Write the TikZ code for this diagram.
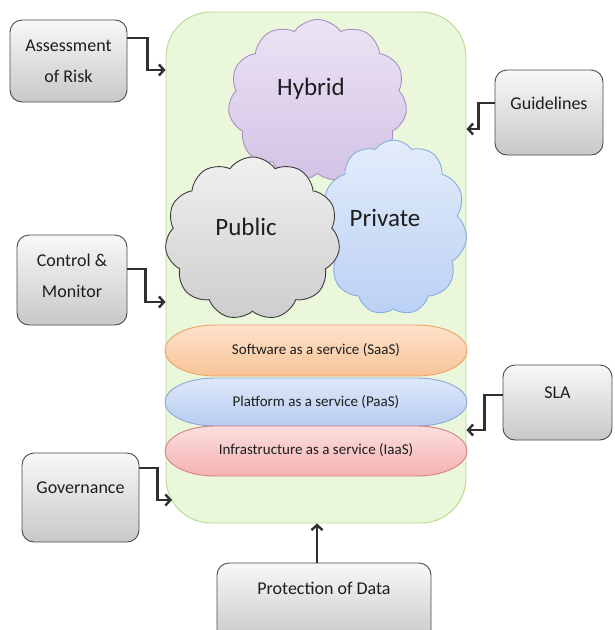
\documentclass[tikz,border=0pt]{standalone}
\usepackage{fontspec}
\setmainfont{Carlito}
\usetikzlibrary{shapes.symbols,arrows.meta}
\definecolor{greenfill}{HTML}{EAF7DA}
\definecolor{greenline}{HTML}{B6D98F}
\definecolor{boxtop}{HTML}{F8F8F8}
\definecolor{boxbot}{HTML}{C8C8C8}
\definecolor{boxline}{HTML}{4A4A4A}
\definecolor{arrowc}{HTML}{303030}
\definecolor{txt}{HTML}{1E1E1E}
\definecolor{hybtop}{HTML}{ECE4F5}
\definecolor{hybbot}{HTML}{D3C2E5}
\definecolor{hybline}{HTML}{A890C6}
\definecolor{pubtop}{HTML}{F0F0F0}
\definecolor{pubbot}{HTML}{CDCDCD}
\definecolor{publine}{HTML}{3C3C3C}
\definecolor{privtop}{HTML}{E3ECFB}
\definecolor{privbot}{HTML}{BBD1F4}
\definecolor{privline}{HTML}{86ADDF}
\definecolor{saastop}{HTML}{FCE2CB}
\definecolor{saasbot}{HTML}{F8C497}
\definecolor{saasline}{HTML}{EDA468}
\definecolor{paastop}{HTML}{DDE8FA}
\definecolor{paasbot}{HTML}{B8CCF0}
\definecolor{paasline}{HTML}{8CA8D9}
\definecolor{iaastop}{HTML}{FCDEDE}
\definecolor{iaasbot}{HTML}{F3B2B2}
\definecolor{iaasline}{HTML}{D77F80}
\begin{document}
\begin{tikzpicture}[x=1pt,y=1pt,
  graybox/.style={draw=boxline, line width=0.9pt, rounded corners=12pt,
    top color=boxtop, bottom color=boxbot, inner sep=0pt},
  boxtext/.style={font=\fontsize{18}{31}\selectfont, text=txt, align=center},
  conn/.style={draw=arrowc, line width=2.4pt, -{Straight Barb[length=5pt,width=11pt]}},
  cloudnode/.style={cloud, cloud puffs=11, cloud puff arc=110, cloud ignores aspect,
    line width=0.9pt, inner sep=0pt},
  cloudtext/.style={font=\fontsize{25}{30}\selectfont, text=txt},
  layer/.style={line width=0.9pt},
  layertext/.style={font=\fontsize{15}{18}\selectfont, text=txt}]
\useasboundingbox (0,0) rectangle (614,-630);

% big container
\node[draw=greenline, fill=greenfill, line width=0.9pt, rounded corners=45pt,
  minimum width=300pt, minimum height=511pt, inner sep=0pt] (cloudbox) at (316,-267.5) {};

% clouds
\node[cloudnode, draw=hybline, top color=hybtop, bottom color=hybbot,
  minimum width=179pt, minimum height=163pt] (hybrid) at (317.5,-101) {};
\node[cloudnode, draw=privline, top color=privtop, bottom color=privbot,
  minimum width=147pt, minimum height=175pt] (private) at (393.5,-227.5) {};
\node[cloudnode, draw=publine, top color=pubtop, bottom color=pubbot,
  minimum width=175pt, minimum height=163pt] (public) at (252.5,-238.5) {};
\node[cloudtext] (thybrid) at (311,-89) {Hybrid};
\node[cloudtext] (tprivate) at (385,-218) {Private};
\node[cloudtext] (tpublic) at (246,-227) {Public};

% service layers
\path[layer, draw=saasline, top color=saastop, bottom color=saasbot]
  (215,-325) -- (417,-325) arc[start angle=90,end angle=-90,x radius=50,y radius=25.5]
  -- (215,-376) arc[start angle=270,end angle=90,x radius=50,y radius=25.5] -- cycle;
\path[layer, draw=paasline, top color=paastop, bottom color=paasbot]
  (215,-378) -- (417,-378) arc[start angle=90,end angle=-90,x radius=50,y radius=24]
  -- (215,-426) arc[start angle=270,end angle=90,x radius=50,y radius=24] -- cycle;
\path[layer, draw=iaasline, top color=iaastop, bottom color=iaasbot]
  (215,-426) -- (417,-426) arc[start angle=90,end angle=-90,x radius=50,y radius=25]
  -- (215,-476) arc[start angle=270,end angle=90,x radius=50,y radius=25] -- cycle;
\node[layertext] (saas) at (316,-350) {Software as a service (SaaS)};
\node[layertext] (paas) at (316,-402) {Platform as a service (PaaS)};
\node[layertext] (iaas) at (316,-450) {Infrastructure as a service (IaaS)};

% side boxes
\node[graybox, minimum width=117pt, minimum height=82pt] (risk) at (68.5,-61) {};
\node[graybox, minimum width=108pt, minimum height=85pt] (guide) at (549,-112.5) {};
\node[graybox, minimum width=110pt, minimum height=90pt] (control) at (72,-280) {};
\node[graybox, minimum width=109pt, minimum height=75pt] (sla) at (557.5,-402.5) {};
\node[graybox, minimum width=117pt, minimum height=89pt] (gov) at (80.5,-497.5) {};
\node[graybox, minimum width=214pt, minimum height=80pt] (prot) at (324,-603) {};

\node[boxtext] (trisk) at (68.5,-61) {Assessment\\of Risk};
\node[boxtext] (tguide) at (549,-103) {Guidelines};
\node[boxtext] (tcontrol) at (72,-275.5) {Control \&\\Monitor};
\node[boxtext] (tsla) at (557.5,-393) {SLA};
\node[boxtext] (tgov) at (80.5,-488) {Governance};
\node[boxtext] (tprot) at (324,-588) {Protection of Data};

% connectors
\coordinate (govend) at (172,-500);
\draw[conn] ([yshift=23pt]risk.east) -- ++(20,0) |- (cloudbox.west |- 0,-70);
\draw[conn] ([yshift=9.5pt]guide.west) -- ++(-16,0) |- (cloudbox.east |- 0,-129);
\draw[conn] ([yshift=11pt]control.east) -- ++(18,0) |- (cloudbox.west |- 0,-302);
\draw[conn] ([yshift=7.5pt]sla.west) -- ++(-18,0) |- (cloudbox.east |- 0,-430);
\draw[conn] ([yshift=29.5pt]gov.east) -- ++(18,0) |- (govend);
\draw[conn] ([xshift=-7pt]prot.north) -- ([xshift=-7pt]prot.north |- cloudbox.south);
\end{tikzpicture}
\end{document}
